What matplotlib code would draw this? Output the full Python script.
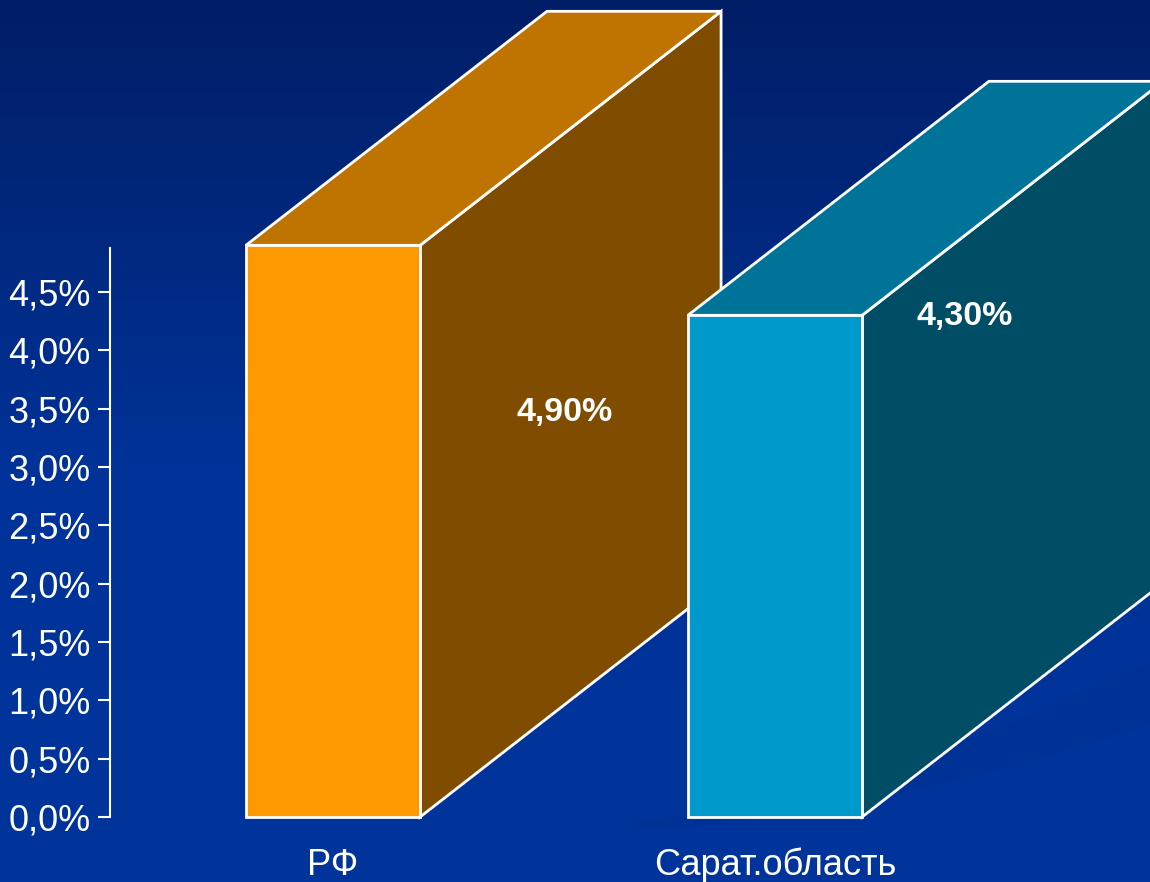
import numpy as np
import matplotlib
matplotlib.use("Agg")
import matplotlib.pyplot as plt
from matplotlib.patches import Polygon
from matplotlib.colors import LinearSegmentedColormap

categories = ["РФ", "Сарат.область"]
values = [4.9, 4.3]
value_labels = ["4,90%", "4,30%"]
tick_values = [0.0, 0.5, 1.0, 1.5, 2.0, 2.5, 3.0, 3.5, 4.0, 4.5]
tick_labels = ["0,0%", "0,5%", "1,0%", "1,5%", "2,0%", "2,5%", "3,0%", "3,5%", "4,0%", "4,5%"]

front_colors = ["#FF9900", "#0099CC"]
top_colors = ["#BF7300", "#007399"]
side_colors = ["#804D00", "#004D66"]

plt.rcParams['font.family'] = ['Liberation Sans', 'DejaVu Sans']

W, H = 1150, 882
fig = plt.figure(figsize=(W / 100, H / 100), dpi=100)

# background gradient
bg = fig.add_axes([0, 0, 1, 1], zorder=0)
grad = np.linspace(0, 1, 256).reshape(-1, 1)
cmap = LinearSegmentedColormap.from_list("bg", [(0, "#001E66"), (0.55, "#00339A"), (1, "#00359C")])
bg.imshow(grad, aspect="auto", cmap=cmap, extent=[0, 1, 0, 1], origin="upper")
# subtle swooshes lower right
xs = np.linspace(0.55, 1.0, 200)
t = (xs - 0.55) / 0.45
bg.fill_between(xs, 0.06 + 0.12 * t ** 1.6, 0.07 + 0.18 * t ** 1.5,
                color="#002C8A", alpha=0.35, lw=0)
xl = np.linspace(0.87, 1.0, 50)
bg.plot(xl, 0.385 - 0.09 * (xl - 0.87) / 0.13, color="#002C88", lw=2, alpha=0.5)
bg.set_xlim(0, 1)
bg.set_ylim(0, 1)
bg.axis("off")

ax_left = 110 / W
ax_bottom = 65 / H
ax = fig.add_axes([ax_left, ax_bottom, 1 - ax_left, (H - 65) / H], zorder=1)
ax.patch.set_alpha(0)

px_per_unit_y = 116.67
ymax = 817 / px_per_unit_y
ax.set_ylim(0, ymax)
x0 = -(333 - 110) / 442
x1 = (1150 - 333) / 442
ax.set_xlim(x0, x1)

bar_w = 0.394
dx = 301 / 442
dy = 234 / px_per_unit_y

xpos = np.arange(len(categories))
for i, (x, v) in enumerate(zip(xpos, values)):
    l, r = x - bar_w / 2, x + bar_w / 2
    ec = "white"
    side = Polygon([(r, 0), (r + dx, dy), (r + dx, v + dy), (r, v)], closed=True,
                   facecolor=side_colors[i], edgecolor=ec, lw=2, zorder=2 + i * 3, clip_on=False)
    top = Polygon([(l, v), (l + dx, v + dy), (r + dx, v + dy), (r, v)], closed=True,
                  facecolor=top_colors[i], edgecolor=ec, lw=2, zorder=2 + i * 3, clip_on=False)
    front = Polygon([(l, 0), (r, 0), (r, v), (l, v)], closed=True,
                    facecolor=front_colors[i], edgecolor=ec, lw=2, zorder=3 + i * 3, clip_on=False)
    ax.add_patch(side)
    ax.add_patch(top)
    ax.add_patch(front)

# value labels
ax.text(xpos[0] + 0.525, 3.47, value_labels[0], color="white", fontsize=24.5, fontweight="bold",
        ha="center", va="center", zorder=10)
ax.text(xpos[1] + 0.43, 4.29, value_labels[1], color="white", fontsize=24.5, fontweight="bold",
        ha="center", va="center", zorder=10)

# axes styling
for s in ["top", "right", "bottom"]:
    ax.spines[s].set_visible(False)
ax.spines["left"].set_color("white")
ax.spines["left"].set_linewidth(1.5)
ax.spines["left"].set_bounds(0, 4.88)
ax.set_yticks(tick_values)
ax.set_yticklabels(tick_labels)
ax.tick_params(axis="y", colors="white", labelsize=26, length=9, width=1.5, pad=5)
ax.set_xticks(xpos)
ax.set_xticklabels(categories)
ax.tick_params(axis="x", colors="white", labelsize=26, length=0, pad=22)

fig.savefig("out.png", dpi=100)
